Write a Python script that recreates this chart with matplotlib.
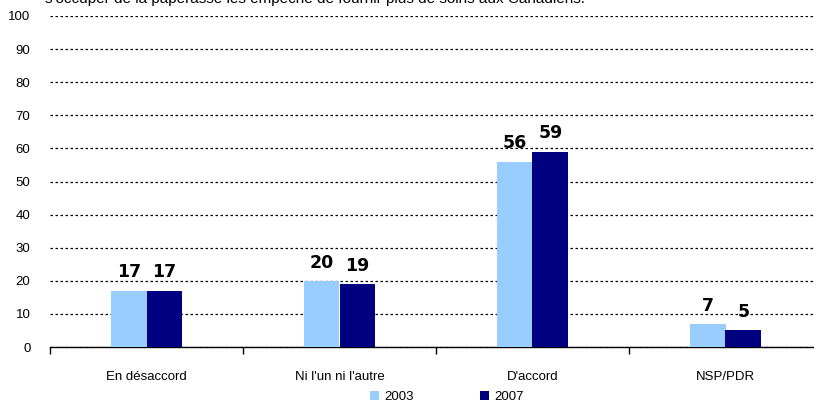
import numpy as np
import matplotlib.pyplot as plt

categories = ["En désaccord", "Ni l'un ni l'autre", "D'accord", "NSP/PDR"]
years = ["2003", "2007"]
values_2003 = [17, 20, 56, 7]
values_2007 = [17, 19, 59, 5]
colors = ["#99CCFF", "#000080"]
caption = "s'occuper de la paperasse les empêche de fournir plus de soins aux Canadiens."

plt.rcParams['font.family'] = ['Liberation Sans', 'DejaVu Sans']

fig = plt.figure(figsize=(8.14, 4.09), dpi=100)
ax = fig.add_axes([50 / 814, 1 - 347 / 409, 772 / 814, 331 / 409])

x = np.arange(len(categories))
w = 0.185
series = [values_2003, values_2007]
for i, (vals, col, yr) in enumerate(zip(series, colors, years)):
    pos = x + (i - 0.5) * w
    ax.bar(pos, vals, width=w, color=col, label=yr, zorder=3)
    for p, v in zip(pos, vals):
        ax.text(p, v + 4.0, str(v), ha='center', va='baseline',
                fontsize=12.5, fontweight='bold', family='DejaVu Sans')

ax.set_xlim(-0.5, len(categories) - 0.5)
ax.set_ylim(0, 100)
ax.set_yticks(range(0, 101, 10))
ax.tick_params(axis='y', length=0, labelsize=9.5, pad=14)
ax.yaxis.grid(True, linestyle=(0, (2, 2)), color='black', linewidth=0.9)
ax.set_axisbelow(True)

ax.set_xticks(x)
ax.set_xticklabels(categories, fontsize=9.5)
ax.tick_params(axis='x', length=0, pad=17)
ax.set_xticks(np.arange(len(categories)) - 0.5, minor=True)
ax.tick_params(axis='x', which='minor', length=5, width=1, direction='out')

for s in ['top', 'right', 'left']:
    ax.spines[s].set_visible(False)
ax.spines['bottom'].set_linewidth(1)

fig.text(45 / 814, 1 - 3 / 409, caption, fontsize=11, va='baseline', ha='left')

fig.legend(loc='center', bbox_to_anchor=(447 / 814, 1 - 397 / 409), ncol=2,
           frameon=False, fontsize=9.5, handlelength=0.7, handleheight=0.7,
           columnspacing=5, handletextpad=0.4)

fig.savefig("out.png", dpi=100)
